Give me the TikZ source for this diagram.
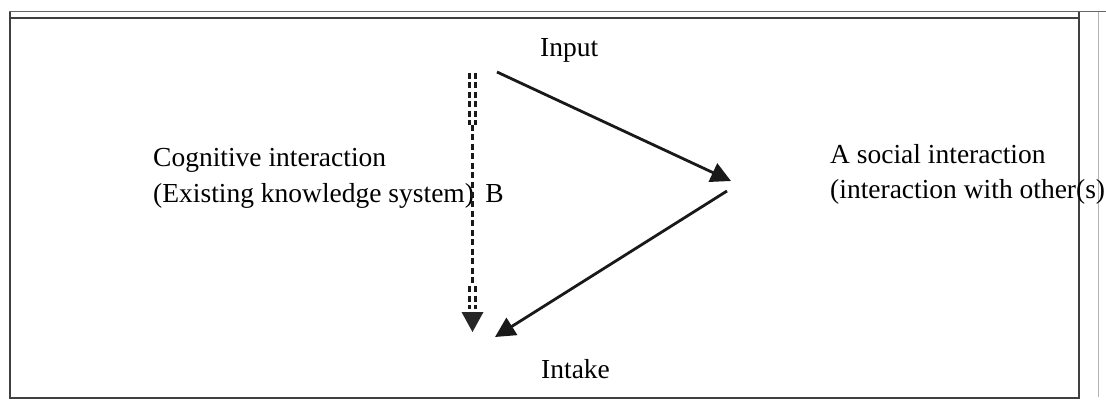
\documentclass[tikz,border=0pt]{standalone}
\usepackage{fontspec}
\setmainfont{Liberation Serif}
\usetikzlibrary{arrows.meta}
\begin{document}
\begin{tikzpicture}[x=1pt,y=-1pt,
  frame/.style={line width=2pt,draw=black!75},
  thinframe/.style={line width=1pt,draw=black!60},
  lbl/.style={anchor=base west,inner sep=0pt,font=\fontsize{27.5}{32}\selectfont},
  flow/.style={line width=2.8pt,draw=black!90,-{Triangle[length=20pt,width=20pt]}},
  dashline/.style={line width=3.5pt,draw=black!90,dash pattern=on 6pt off 3.5pt},
  dashpair/.style={line width=2.5pt,draw=black!90,dash pattern=on 6pt off 3.5pt}]
\useasboundingbox (0,0) rectangle (1106,401);
% frame
\draw[thinframe] (9,12) -- (1106,12);
\draw[frame] (9,18) -- (1079,18);
\draw[frame] (9.5,12) -- (9.5,398) -- (1079,398) -- (1079,12);
\draw[line width=0.8pt,draw=black!30] (1098,12) -- (1098,397);
% texts
\node[lbl] (input) at (540,57) {Input};
\node[lbl] (intake) at (541,378) {Intake};
\node[lbl] (cog1) at (153,167) {Cognitive interaction};
\node[lbl] (cog2) at (153,202) {(Existing knowledge system)\, B};
\node[lbl] (soc1) at (830,164) {A social interaction};
\node[lbl] (soc2) at (830,198) {(interaction with other(s)};
% connector end points
\coordinate (dtop) at (472.5,73);
\coordinate (dsplit) at (472.5,125);
\coordinate (dbot) at (472.5,332);
\coordinate (a1s) at (497,72);
\coordinate (a1e) at (731,181);
\coordinate (a2s) at (727,191);
\coordinate (a2e) at (495,337);
% dashed downward arrow
\draw[dashpair] ([xshift=-3pt]dtop) -- ([xshift=-3pt]dsplit);
\draw[dashpair] ([xshift=3pt]dtop) -- ([xshift=3pt]dsplit);
\draw[dashline] (dsplit) -- (472.5,283);
\draw[dashpair] (469.5,286) -- (469.5,309);
\draw[dashpair] (475.5,286) -- (475.5,309);
\fill[black!85] (461.5,312) -- (483.5,312) -- (dbot) -- cycle;
% solid arrows
\draw[flow] (a1s) -- (a1e);
\draw[flow] (a2s) -- (a2e);
\end{tikzpicture}
\end{document}
